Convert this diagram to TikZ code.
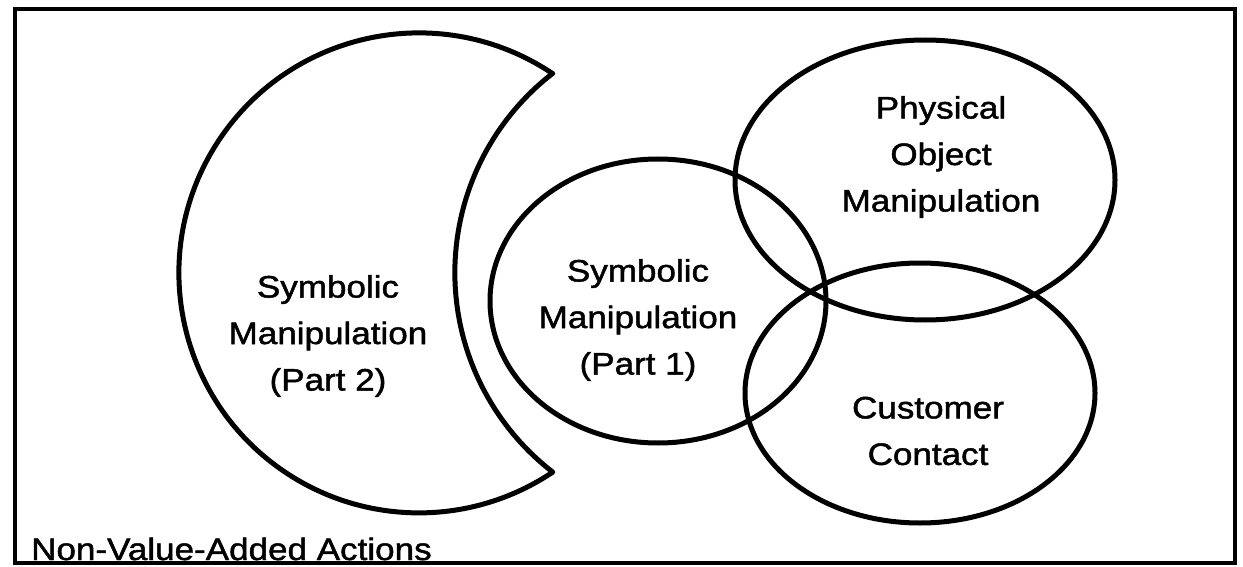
\documentclass[tikz,border=0pt]{standalone}
\usepackage{fontspec}
\setmainfont{Liberation Sans}[FakeStretch=1.13, FakeBold=1.5]
\usetikzlibrary{positioning}
\tikzstyle{frame} = [line width=4pt]
\tikzstyle{blob} = [line width=5pt, line join=round]
\tikzstyle{lbl} = [align=center, inner sep=0mm, font=\fontsize{31}{46.5}\selectfont]

\begin{document}
\begin{tikzpicture}[x=1pt, y=-1pt]
                \useasboundingbox (0,0) rectangle (1243,567);
                \draw[frame] (15,9) rectangle (1235,563);

                % crescent
                \draw[blob] (552.75,73.7) arc[start angle=-56.1, end angle=-303.9, radius=240]
                    arc[start angle=127.7, end angle=232.3, radius=252] -- cycle;

                \foreach \x/\y/\a/\b in {658/301/168/142, 925/180/190/140, 920/393/175/130}
                \draw[blob] (\x,\y) ellipse[x radius=\a, y radius=\b];

                \node[lbl] (sym2) at (328,336) {Symbolic\\Manipulation\\(Part 2)};
                \node[lbl] (sym1) at (638,320) {Symbolic\\Manipulation\\(Part 1)};
                \node[lbl] (phys) at (941,157) {Physical\\Object\\Manipulation};
                \node[lbl] (cust) at (928,431) {Customer\\Contact};
                \node[lbl, anchor=base west] (nva) at (31,560) {Non-Value-Added Actions};
            \end{tikzpicture}
\end{document}
